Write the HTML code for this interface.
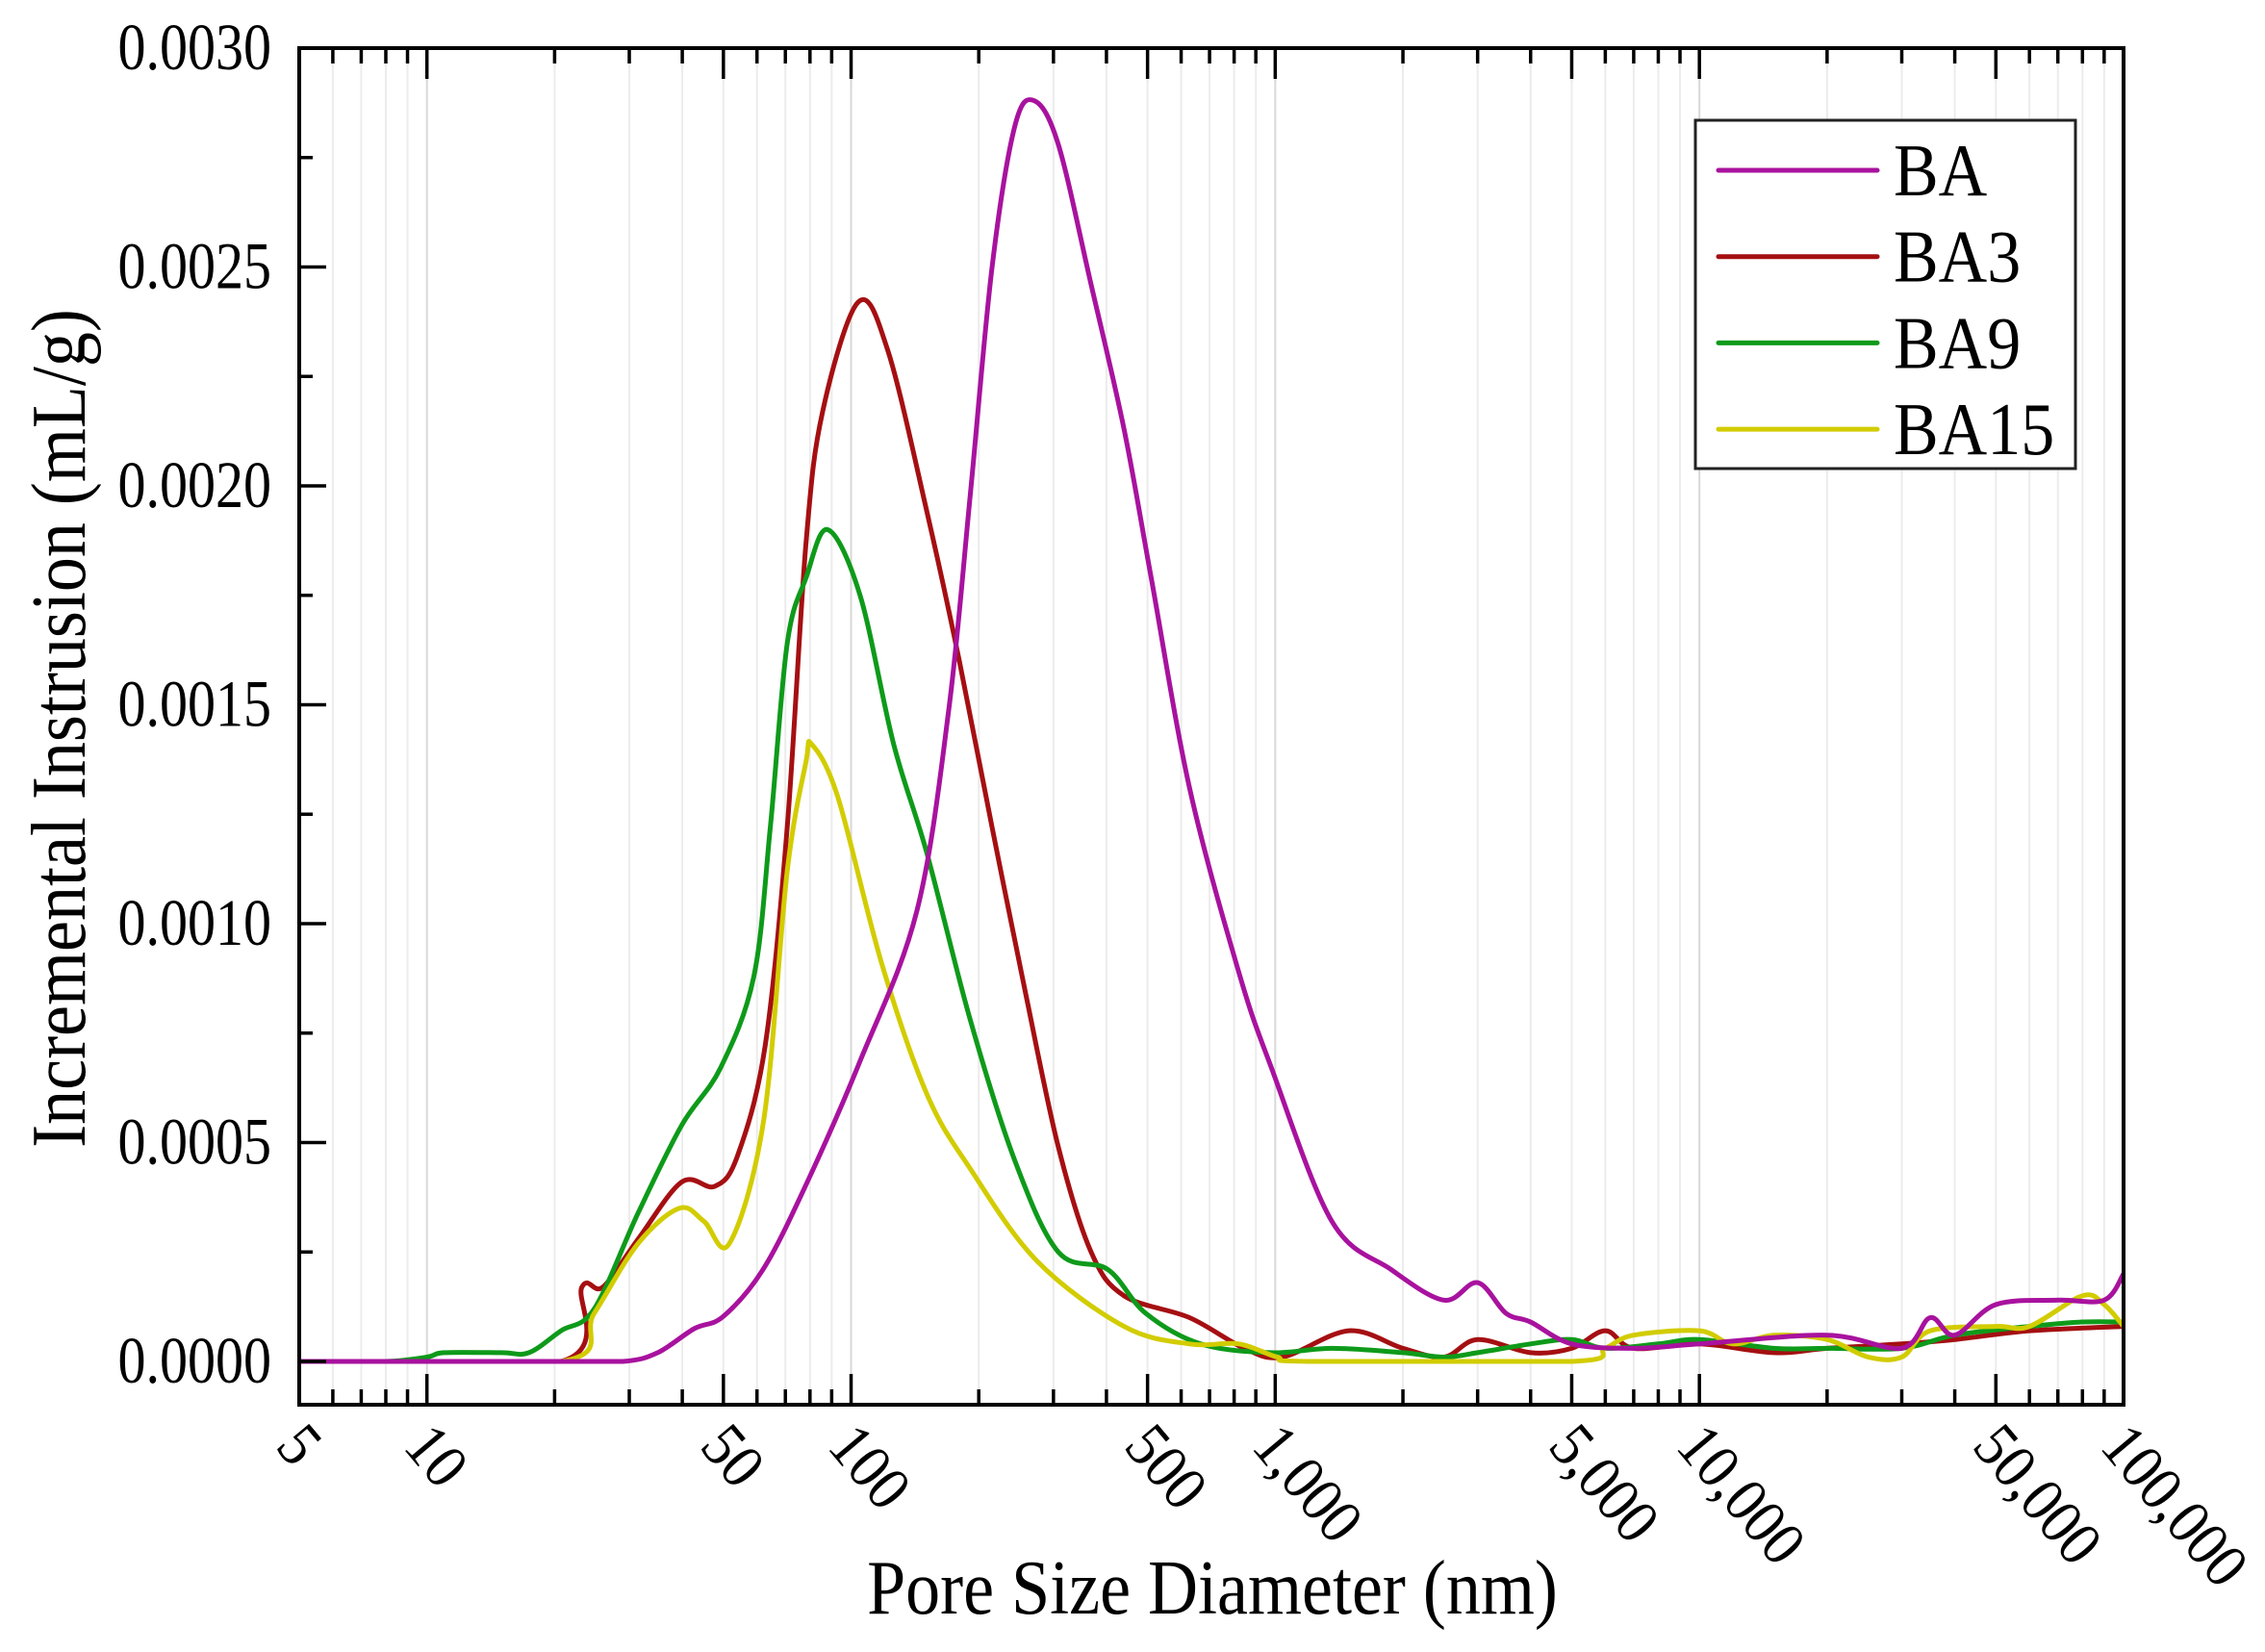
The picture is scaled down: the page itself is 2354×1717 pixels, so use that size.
<!DOCTYPE html>
<html><head><meta charset="utf-8"><style>
html,body{margin:0;padding:0;background:#fff}
svg{display:block}
text{font-family:"Liberation Serif",serif;fill:#000}
</style></head><body>
<svg id="chart" width="2354" height="1717" viewBox="0 0 2354 1717" xmlns="http://www.w3.org/2000/svg">
<g id="grid"></g>
<g id="series"></g>
<g id="axes"></g>
<text transform="translate(88,757) rotate(-90) scale(1,1.12)" text-anchor="middle" font-size="72">Incremental Instrusion (mL/g)</text>
<text transform="translate(1260,1677) scale(1,1.12)" text-anchor="middle" font-size="72">Pore Size Diameter (nm)</text>
<g>
<rect x="1762" y="125" width="395" height="362" fill="#fff" stroke="#222" stroke-width="3"/>
<g id="legend-items"></g>
</g>
</svg>
<script>
const xTickValues=[5,10,50,100,500,1000,5000,10000,50000,100000];
const xTickLabels=["5","10","50","100","500","1,000","5,000","10,000","50,000","100,000"];
const yTickValues=[0,0.0005,0.001,0.0015,0.002,0.0025,0.003];
const yTickLabels=["0.0000","0.0005","0.0010","0.0015","0.0020","0.0025","0.0030"];
const seriesNames=["BA","BA3","BA9","BA15"];
const seriesColors=["#a8129e","#a50f12","#0e9a1a","#d2cc00"];
const baX=[5,20,29,35,42.7,50,62,78,105,143,170,191,215,243,270,308,368,440,510,628,820,980,1360,1875,2500,3000,3500,4000,5000,7000,10000,20000,30000,35000,40000,50000,70000,90000,100000];
const baY=[0,0,0,0.00002,0.000075,0.000103,0.00021,0.0004,0.000686,0.00103,0.00149,0.00198,0.0025,0.00282,0.00288,0.00278,0.00246,0.00213,0.00179,0.00131,0.00089,0.00067,0.00032,0.00021,0.00014,0.00018,0.00011,0.00009,0.00004,0.00003,0.00004,0.00006,0.00003,0.0001,0.00006,0.00013,0.00014,0.00014,0.0002];
const ba3X=[5,20.7,23.2,26,31.5,39.9,47.7,54,62.7,70.7,78.3,85.7,104,122,151,180,215,258,308,368,440,628,845,1040,1490,2000,2500,3000,4000,5000,6000,7000,10000,15000,20000,30000,40000,60000,100000];
const ba3Y=[0,0,0.00017,0.00017,0.00028,0.00041,0.0004,0.00047,0.00072,0.00122,0.00187,0.00217,0.00242,0.00231,0.00194,0.0016,0.00122,0.00084,0.00049,0.00025,0.00015,0.0001,0.00003,0.00001,0.00007,0.00003,0.00001,0.00005,0.00002,0.00003,0.00007,0.00003,0.00004,0.00002,0.00003,0.00004,0.00005,0.00007,0.00008];
const ba9X=[5,8,10,11,15,17.4,20.7,24.8,31.5,39.9,49.2,59,64.5,70.7,78.3,88.1,105,126,151,191,243,308,403,495,667,980,1360,2000,2500,3000,4000,5000,6000,8000,10000,15000,20000,30000,40000,60000,80000,100000];
const ba9Y=[0,0,0.00001,0.00002,0.00002,0.00002,0.00007,0.00012,0.00034,0.00054,0.00067,0.00088,0.00122,0.00164,0.00179,0.0019,0.00175,0.00141,0.00116,0.00078,0.00046,0.00025,0.00021,0.00011,0.00004,0.00002,0.00003,0.00002,0.00001,0.00002,0.00004,0.00005,0.00003,0.00004,0.00005,0.00003,0.00003,0.00003,0.00006,0.00008,0.00009,0.00009];
const ba15X=[5,20.7,24.8,31.5,39.4,45,51.7,62.2,70.7,78.3,80.7,93,118,151,191,274,440,628,820,1010,1200,5000,6000,7000,10000,12000,15000,20000,25000,30000,35000,50000,60000,80000,90000,100000];
const ba15Y=[0,0,0.00011,0.00027,0.00035,0.00032,0.00027,0.00055,0.00112,0.00137,0.00141,0.00129,0.00091,0.00061,0.00044,0.00023,0.00008,0.00004,0.00004,0.00001,0,0,0.00003,0.00006,0.00007,0.00004,0.00006,0.00005,0.00001,0.00001,0.00007,0.00008,0.00008,0.00015,0.00013,0.00008];
const allX=[baX,ba3X,ba9X,ba15X];
const allY=[baY,ba3Y,ba9Y,ba15Y];

const L=311,R=2207,T=50,B=1460,Y0=1415;
const XMIN=5,XMAX=100000;
function sx(v){return L+(Math.log10(v)-Math.log10(XMIN))/(Math.log10(XMAX)-Math.log10(XMIN))*(R-L);}
function sy(v){return Y0-v/0.003*(Y0-T);}
const NS="http://www.w3.org/2000/svg";
function mk(tag,attrs,parent){const e=document.createElementNS(NS,tag);for(const k in attrs)e.setAttribute(k,attrs[k]);parent.appendChild(e);return e;}
const grid=document.getElementById('grid'),axes=document.getElementById('axes'),series=document.getElementById('series');
function m1(v){return Math.abs(Math.log10(v)-Math.round(Math.log10(v)))<1e-9;}

const minorVals=[];
for(let d=1;d<=100000;d*=10){for(let m=1;m<10;m++){const v=m*d;if(v>=XMIN&&v<=XMAX)minorVals.push(v);}}
minorVals.forEach(v=>{
  const x=sx(v);
  const g=mk('line',{x1:x,x2:x,y1:T,y2:B,stroke:(m1(v)?'#d8d8d8':'#ececec'),'stroke-width':2},grid);
  
  
  const major=xTickValues.indexOf(v)>=0;
  const len=major?32:16;
  const t1=mk('line',{x1:x,x2:x,y1:B,y2:B-len,stroke:'#000','stroke-width':3.5},axes);
  
  
  const t2=mk('line',{x1:x,x2:x,y1:T,y2:T+len,stroke:'#000','stroke-width':3.5},axes);
  
  
});
xTickValues.forEach((v,i)=>{
  const x=sx(v);
  const t=mk('text',{x:0,y:0,'font-size':60,transform:`translate(${x-26},${B+44}) rotate(50) scale(1,1.1)`},axes);
  t.textContent=xTickLabels[i];
  
  
});
for(let k=0;k<=12;k++){
  const v=k*0.00025,y=sy(v),major=k%2===0;
  const tk=mk('line',{x1:L,x2:L+(major?28:14),y1:y,y2:y,stroke:'#000','stroke-width':3.5},axes);
  
  
}
yTickValues.forEach((v,i)=>{
  const t=mk('text',{x:0,y:0,'text-anchor':'end','font-size':58,transform:`translate(282,${sy(v)+22}) scale(1,1.18)`},axes);
  t.textContent=yTickLabels[i];
  
  
});
const frame=mk('rect',{x:L,y:T,width:R-L,height:B-T,fill:'none',stroke:'#000','stroke-width':4},axes);



function pathFor(xs,ys){
  const p=xs.map((x,i)=>[sx(x),sy(ys[i])]);
  const yz=sy(0);
  let d=`M${p[0][0]},${p[0][1]}`;
  for(let i=0;i<p.length-1;i++){
    const p0=p[Math.max(0,i-1)],p1=p[i],p2=p[i+1],p3=p[Math.min(p.length-1,i+2)];
    const t=1/6;
    const c1=[p1[0]+(p2[0]-p0[0])*t,Math.min(yz,p1[1]+(p2[1]-p0[1])*t)];
    const c2=[p2[0]-(p3[0]-p1[0])*t,Math.min(yz,p2[1]-(p3[1]-p1[1])*t)];
    d+=` C${c1[0]},${c1[1]} ${c2[0]},${c2[1]} ${p2[0]},${p2[1]}`;
  }
  return d;
}
[1,2,3,0].forEach(i=>{
  const pth=mk('path',{d:pathFor(allX[i],allY[i]),fill:'none',stroke:seriesColors[i],'stroke-width':5,'stroke-linejoin':'round'},series);
  
  
});
const li=document.getElementById('legend-items');
seriesNames.forEach((n,i)=>{
  const y=177+i*89.7;
  const ln=mk('line',{x1:1786,x2:1951,y1:y,y2:y,stroke:seriesColors[i],'stroke-width':5,'stroke-linecap':'round'},li);
  
  
  const t=mk('text',{x:0,y:0,'font-size':70,transform:`translate(1968,${y+26}) scale(1,1.1)`},li);
  t.textContent=n;
  
  
});
</script>
</body></html>
